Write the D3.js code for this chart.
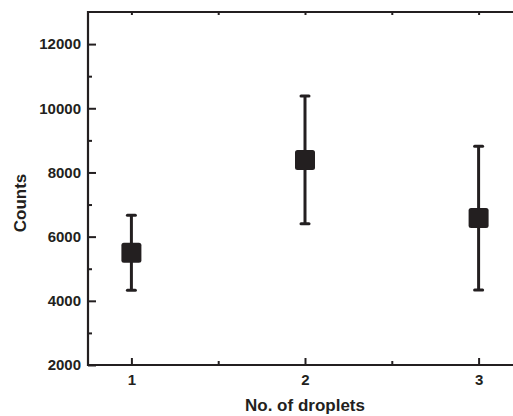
<!DOCTYPE html>
<html>
<head>
<meta charset="utf-8">
<script src="https://cdn.jsdelivr.net/npm/d3@7"></script>
<style>
  html, body { margin: 0; padding: 0; background: #fff; overflow: hidden; }
  svg { display: block; }
</style>
</head>
<body>
<svg id="chart" width="513" height="416"></svg>
<script>
// ---- data ----
const droplets = [1, 2, 3];
const meanCounts = [5500, 8390, 6580];
const errCounts = [1170, 1990, 2240];
const xMajorTicks = [1, 2, 3];
const xMinorTicks = [1.5, 2.5];
const yMajorTicks = [2000, 4000, 6000, 8000, 10000, 12000];
const yMinorTicks = [3000, 5000, 7000, 9000, 11000];
const xTitle = "No. of droplets";
const yTitle = "Counts";

// ---- layout ----
const ink = "#231f20";
const font = "'Liberation Sans', Arial, Helvetica, sans-serif";
const pL = 88, pR = 522, pT = 12, pB = 365;

const svg = d3.select("#chart");
const x = d3.scaleLinear().domain([0.75, 3.25]).range([pL, pR]);
const y = d3.scaleLinear().domain([2000, 13000]).range([pB, pT]);

// Bottom axis (major)
const gx = svg.append("g").attr("transform", `translate(0,${pB})`)
  .call(d3.axisBottom(x).tickValues(xMajorTicks).tickFormat(d3.format("d"))
    .tickSizeInner(-7).tickSizeOuter(0).tickPadding(9));
gx.select(".domain").remove();
gx.selectAll(".tick line").attr("stroke", ink).attr("stroke-width", 2)
  .attr("y1", 1);
gx.selectAll(".tick text").attr("fill", ink).attr("font-family", font)
  .attr("font-weight", "bold").attr("font-size", 15);

// Bottom minor
const gxm = svg.append("g").attr("transform", `translate(0,${pB})`)
  .call(d3.axisBottom(x).tickValues(xMinorTicks).tickFormat("").tickSizeInner(-4).tickSizeOuter(0));
gxm.select(".domain").remove();
gxm.selectAll(".tick line").attr("stroke", ink).attr("stroke-width", 2).attr("y1", 1);

// Top ticks
const gt = svg.append("g").attr("transform", `translate(0,${pT})`)
  .call(d3.axisTop(x).tickValues(xMajorTicks.concat(xMinorTicks)).tickFormat("").tickSizeInner(-3).tickSizeOuter(0));
gt.select(".domain").remove();
gt.selectAll(".tick line").attr("stroke", ink).attr("stroke-width", 2);

// Left axis (major)
const gy = svg.append("g").attr("transform", `translate(${pL},0)`)
  .call(d3.axisLeft(y).tickValues(yMajorTicks).tickFormat(d3.format("d"))
    .tickSizeInner(-8).tickSizeOuter(0).tickPadding(7));
gy.select(".domain").remove();
gy.selectAll(".tick line").attr("stroke", ink).attr("stroke-width", 2);
gy.selectAll(".tick text").attr("fill", ink).attr("font-family", font)
  .attr("font-weight", "bold").attr("font-size", 15);

// Left minor
const gym = svg.append("g").attr("transform", `translate(${pL},0)`)
  .call(d3.axisLeft(y).tickValues(yMinorTicks).tickFormat("").tickSizeInner(-4).tickSizeOuter(0));
gym.select(".domain").remove();
gym.selectAll(".tick line").attr("stroke", ink).attr("stroke-width", 2);

// Frame lines (left, bottom, top)
svg.append("path")
  .attr("d", `M${pR},${pT}H${pL}V${pB}H${pR}`)
  .attr("fill", "none").attr("stroke", ink).attr("stroke-width", 2.2);

// Error bars
const pts = droplets.map((d, i) => ({ x: d, m: meanCounts[i], e: errCounts[i] }));
const g = svg.append("g");
g.selectAll("line.err").data(pts).join("line").attr("class", "err")
  .attr("x1", d => x(d.x)).attr("x2", d => x(d.x))
  .attr("y1", d => y(d.m + d.e)).attr("y2", d => y(d.m - d.e))
  .attr("stroke", ink).attr("stroke-width", 3);
["hi", "lo"].forEach(k => {
  g.selectAll("line.cap-" + k).data(pts).join("line").attr("class", "cap-" + k)
    .attr("x1", d => x(d.x) - 4).attr("x2", d => x(d.x) + 4)
    .attr("y1", d => y(k === "hi" ? d.m + d.e : d.m - d.e))
    .attr("y2", d => y(k === "hi" ? d.m + d.e : d.m - d.e))
    .attr("stroke", ink).attr("stroke-width", 3).attr("stroke-linecap", "round");
});
const s = 20;
g.selectAll("rect.mk").data(pts).join("rect").attr("class", "mk")
  .attr("x", d => x(d.x) - s / 2).attr("y", d => y(d.m) - s / 2)
  .attr("width", s).attr("height", s).attr("rx", 2.5)
  .attr("fill", ink);

// Axis titles
svg.append("text").attr("x", x(2)).attr("y", 411).attr("text-anchor", "middle")
  .attr("font-family", font).attr("font-weight", "bold").attr("font-size", 17)
  .attr("fill", ink).text(xTitle);
svg.append("text").attr("transform", "translate(26,203) rotate(-90)")
  .attr("text-anchor", "middle")
  .attr("font-family", font).attr("font-weight", "bold").attr("font-size", 17)
  .attr("fill", ink).text(yTitle);
</script>
</body>
</html>
